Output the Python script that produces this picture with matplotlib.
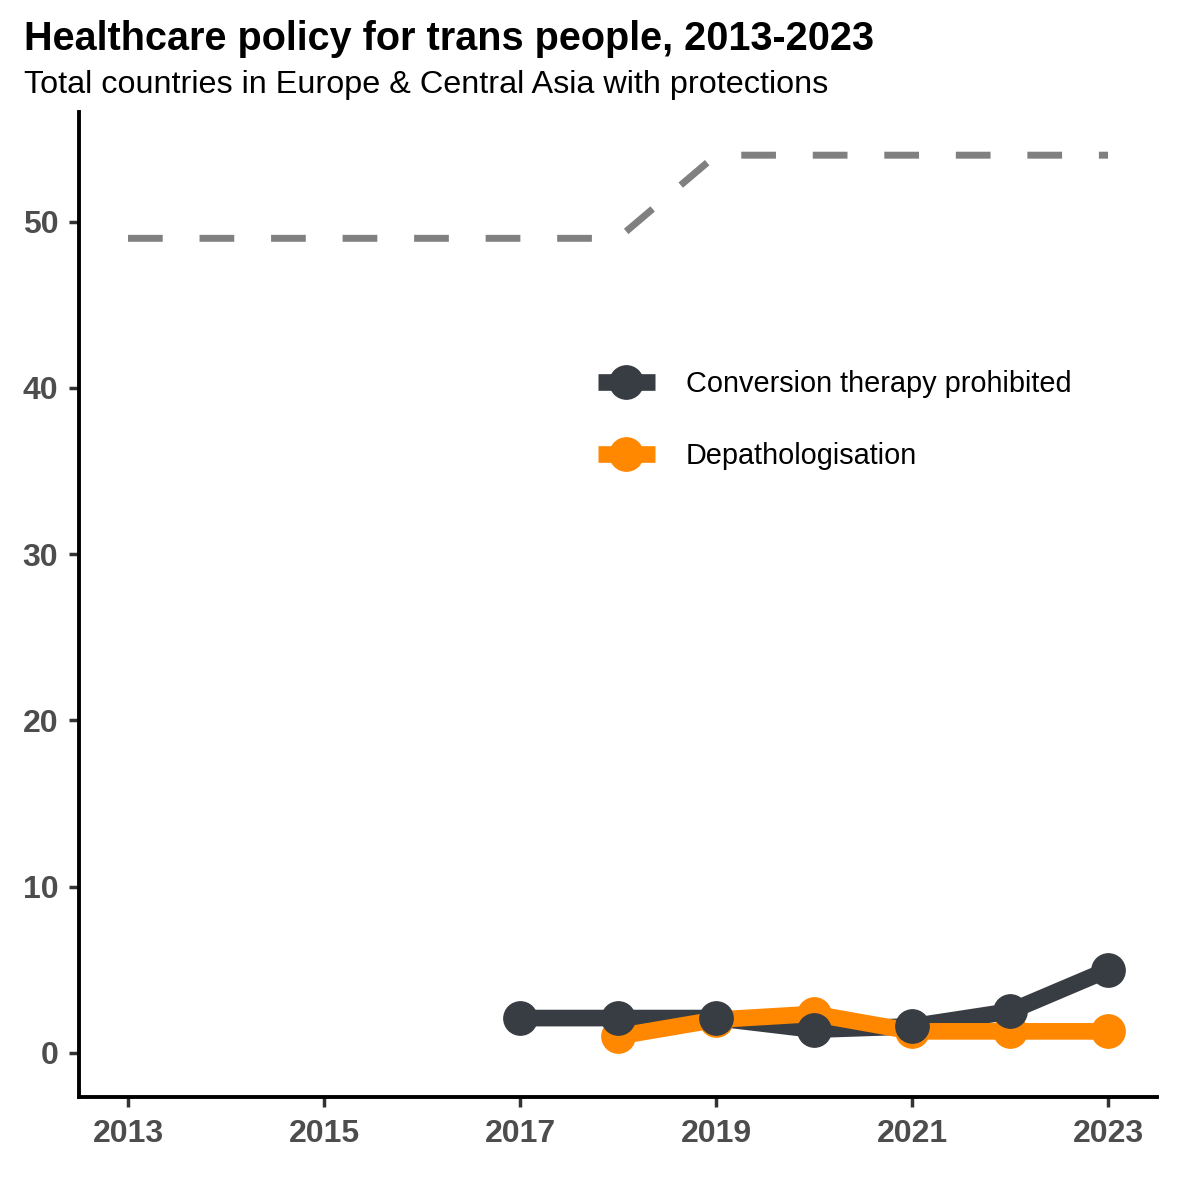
import matplotlib
matplotlib.use('Agg')
import matplotlib.pyplot as plt

plt.rcParams['font.family'] = ['Liberation Sans', 'DejaVu Sans']

# ---- data ----
years_all = [2013, 2014, 2015, 2016, 2017, 2018, 2019, 2020, 2021, 2022, 2023]
total_countries = [49, 49, 49, 49, 49, 49, 54, 54, 54, 54, 54]

years_conv = [2017, 2018, 2019, 2020, 2021, 2022, 2023]
conversion = [2.1, 2.1, 2.1, 1.4, 1.6, 2.5, 5.0]

years_dep = [2018, 2019, 2020, 2021, 2022, 2023]
depath = [1.0, 2.0, 2.35, 1.3, 1.3, 1.3]

x_ticks = [2013, 2015, 2017, 2019, 2021, 2023]
y_ticks = [0, 10, 20, 30, 40, 50]

dark = '#373d42'
orange = '#ff8800'

fig = plt.figure(figsize=(11.81, 11.81), dpi=100)
ax = fig.add_axes([0.0669, 0.0711, 0.9128, 0.8341])

ax.plot(years_all, total_countries, color='#808080', lw=5, dashes=(5, 5.3),
        solid_capstyle='butt', zorder=1)

# lines first, then points (dark points on top)
ax.plot(years_conv, conversion, color=dark, lw=12, zorder=2)
ax.plot(years_dep, depath, color=orange, lw=12, zorder=3)
ax.plot(years_dep, depath, 'o', color=orange, ms=24, zorder=4)
ax.plot(years_conv, conversion, 'o', color=dark, ms=24, zorder=5)

# legend handles
h1, = ax.plot([], [], color=dark, lw=12, marker='o', ms=24, solid_capstyle='butt',
              label='Conversion therapy prohibited')
h2, = ax.plot([], [], color=orange, lw=12, marker='o', ms=24, solid_capstyle='butt',
              label='Depathologisation')
ax.legend(handles=[h1, h2], frameon=False, loc='upper left',
          bbox_to_anchor=(0.4814, 0.738), fontsize=20.8, handlelength=1.97,
          handletextpad=1.07, labelspacing=1.52, borderpad=0, borderaxespad=0)

ax.set_xlim(2012.5, 2023.5)
ax.set_ylim(-2.65, 56.6)
ax.set_xticks(x_ticks)
ax.set_yticks(y_ticks)
for lab in ax.get_xticklabels() + ax.get_yticklabels():
    lab.set_fontweight('bold')
ax.tick_params(axis='both', labelsize=23, labelcolor='#4d4d4d', color='#333333',
               length=7, width=2.5)
ax.tick_params(axis='x', pad=9)
ax.tick_params(axis='y', pad=8)

for s in ['top', 'right']:
    ax.spines[s].set_visible(False)
for s in ['left', 'bottom']:
    ax.spines[s].set_linewidth(2.8)
    ax.spines[s].set_color('black')

fig.text(0.0203, 0.967, 'Healthcare policy for trans people, 2013-2023',
         fontsize=28.5, fontweight='bold', va='center', ha='left')
fig.text(0.0203, 0.928, 'Total countries in Europe & Central Asia with protections',
         fontsize=23.3, va='center', ha='left')

fig.savefig('out.png', dpi=100)
